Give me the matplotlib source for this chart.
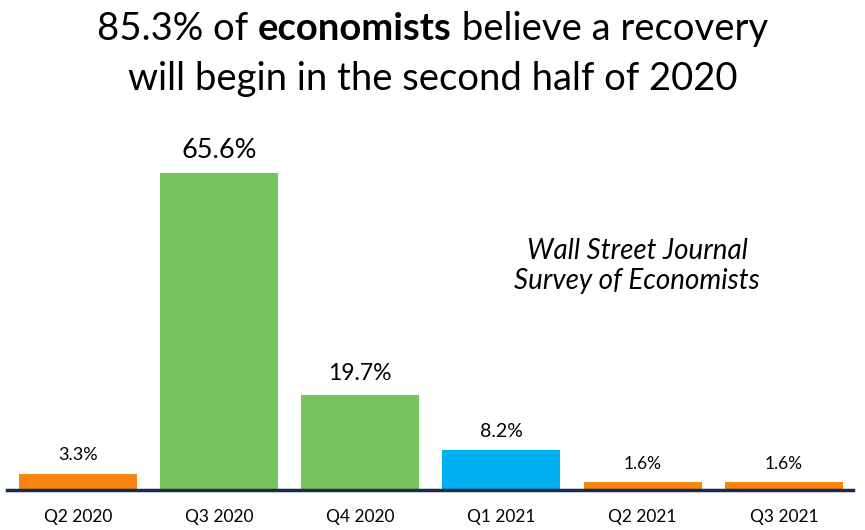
import matplotlib
matplotlib.use("Agg")
import matplotlib.pyplot as plt

plt.rcParams['font.family'] = ['Lato', 'DejaVu Sans']

quarters = ["Q2 2020", "Q3 2020", "Q4 2020", "Q1 2021", "Q2 2021", "Q3 2021"]
shares = [3.3, 65.6, 19.7, 8.2, 1.6, 1.6]
bar_colors = ["#F7850F", "#77C35D", "#77C35D", "#00B0F0", "#F7850F", "#F7850F"]
label_sizes = [13, 19.5, 16.5, 14, 12.5, 12.5]

title_parts = [("85.3% of ", "normal"), ("economists", "bold"), (" believe a recovery", "normal")]
title_line2 = "will begin in the second half of 2020"
note = "Wall Street Journal\nSurvey of Economists"

fig = plt.figure(figsize=(8.65, 5.30), dpi=100)
ax = fig.add_axes([0.0081, 0.0755, 0.978, 0.717])

x = list(range(len(quarters)))
ax.bar(x, shares, width=0.836, color=bar_colors, zorder=2)
ax.set_xlim(-0.503, 5.49)
ax.set_ylim(0, 78.7)

for xi, v, fs in zip(x, shares, label_sizes):
    ax.text(xi, v + 2.2, f"{v}%", ha="center", va="bottom", fontsize=fs, color="black")

ax.set_xticks(x)
ax.set_xticklabels(quarters, fontsize=12.5)
ax.tick_params(axis="x", length=0, pad=14)
ax.set_yticks([])
for s in ["top", "left", "right"]:
    ax.spines[s].set_visible(False)
ax.spines["bottom"].set_color("#172B4D")
ax.spines["bottom"].set_linewidth(2.5)
ax.spines["bottom"].set_zorder(3)

ax.text(0.745, 0.59, note, transform=ax.transAxes, ha="center", va="center",
        fontsize=20, style="italic", linespacing=1.18)

# title, first line has a bold word in the middle
fig.canvas.draw()
renderer = fig.canvas.get_renderer()
pieces = []
for txt, w in title_parts:
    t = fig.text(0, 0.9245, txt, fontsize=27.5, fontweight=w, ha="left", va="baseline")
    pieces.append(t)
widths = [p.get_window_extent(renderer).width for p in pieces]
total = sum(widths)
x0 = (fig.bbox.width - total) / 2
for p, w in zip(pieces, widths):
    p.set_x(x0 / fig.bbox.width)
    x0 += w
fig.text(0.5, 0.830, title_line2, fontsize=27.5, ha="center", va="baseline")

fig.savefig("out.png", dpi=100)
